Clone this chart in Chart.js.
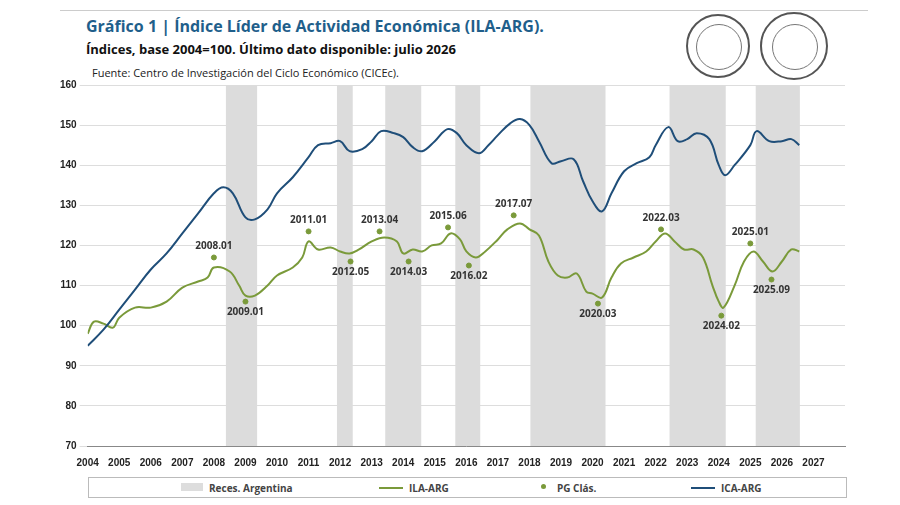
<!DOCTYPE html>
<html><head><meta charset="utf-8">
<script src="https://cdn.jsdelivr.net/npm/chart.js@4"></script>
<style>
body{margin:0;width:900px;height:505px;background:#fff;font-family:"Open Sans",Arial,sans-serif;position:relative;overflow:hidden}
#t{position:absolute;left:86px;top:15px;font-size:16px;font-weight:bold;color:#1f5f8b}
#s{position:absolute;left:86px;top:40px;font-size:13px;font-weight:bold;color:#111}
#f{position:absolute;left:92px;top:65px;font-size:11px;color:#222}
#line{position:absolute;left:60px;top:10px;width:808px;border-top:1px solid #ccc}
.logo{position:absolute;top:14px;width:64px;height:64px;border-radius:50%;border:2px solid #555;box-sizing:border-box}
.logo div{position:absolute;left:8px;top:8px;width:44px;height:44px;border-radius:50%;border:1px solid #777}
#wrap{position:absolute;left:0;top:76px;width:900px;height:400px}
#leg{position:absolute;left:88px;top:477px;width:757px;height:19px;border:1px solid #bbb;font-size:10px;font-weight:bold;color:#444}
#leg span{position:absolute;top:3px}
</style></head><body>
<div id="line"></div>
<div id="t">Gráfico 1 | Índice Líder de Actividad Económica (ILA-ARG).</div>
<div id="s">Índices, base 2004=100. Último dato disponible: julio 2026</div>
<div id="f">Fuente: Centro de Investigación del Ciclo Económico (CICEc).</div>
<div class="logo" style="left:686px"><div></div></div>
<div class="logo" style="left:760px;width:68px;height:68px;top:12px"><div style="left:10px;top:10px"></div></div>
<div id="wrap"><canvas id="c"></canvas></div>
<div id="leg">
<span style="left:92px;width:22px;height:8px;background:#ddd;top:5px"></span><span style="left:120px">Reces. Argentina</span>
<span style="left:290px;width:24px;border-top:2px solid #7a9a3a;top:9px"></span><span style="left:320px">ILA-ARG</span>
<span style="left:452px;width:5px;height:5px;border-radius:50%;background:#7a9a3a;top:6px"></span><span style="left:468px">PG Clás.</span>
<span style="left:602px;width:24px;border-top:2px solid #1f4e79;top:9px"></span><span style="left:632px">ICA-ARG</span>
</div>
<script>
const icaX=[2004.0,2004.5,2005.0,2005.5,2006.0,2006.5,2007.0,2007.5,2008.0,2008.3,2008.6,2009.0,2009.3,2009.7,2010.0,2010.5,2011.0,2011.3,2011.7,2012.0,2012.3,2012.7,2013.0,2013.3,2013.7,2014.0,2014.3,2014.6,2015.0,2015.4,2015.7,2016.0,2016.4,2016.7,2017.0,2017.4,2017.7,2018.0,2018.3,2018.7,2019.0,2019.4,2019.7,2020.0,2020.3,2020.6,2021.0,2021.4,2021.8,2022.0,2022.4,2022.7,2023.0,2023.3,2023.7,2024.0,2024.2,2024.5,2025.0,2025.2,2025.6,2026.0,2026.3,2026.55];
const icaY=[95,99,104,109,114,118,123,128,133,134.5,133,127,126.5,129,133,137,142,145,145.5,146,143.5,144,146,148.5,148,147,144.5,143.5,146,149,148,145,143,145,147.5,150.5,151.5,150,146,140.5,141,141.5,136,131,128.5,133,138.5,140.5,142,145,149.5,146,146.5,148,146.5,140,137.5,140,145,148.5,146,146,146.5,145];
const ilaX=[2004.0,2004.2,2004.5,2004.8,2005.0,2005.5,2006.0,2006.5,2007.0,2007.5,2007.8,2008.0,2008.5,2008.8,2009.0,2009.3,2009.7,2010.0,2010.5,2010.8,2011.0,2011.3,2011.7,2012.0,2012.3,2012.6,2013.0,2013.4,2013.8,2014.0,2014.3,2014.6,2014.9,2015.2,2015.5,2015.8,2016.0,2016.3,2016.6,2017.0,2017.3,2017.7,2018.0,2018.3,2018.6,2018.9,2019.2,2019.5,2019.8,2020.0,2020.3,2020.6,2020.9,2021.3,2021.7,2022.0,2022.3,2022.6,2022.9,2023.2,2023.5,2023.8,2024.0,2024.15,2024.5,2024.8,2025.1,2025.4,2025.7,2026.0,2026.3,2026.55];
const ilaY=[98,101,100.5,99.5,102,104.5,104.5,106,109.5,111,112,114.5,113.5,110,107.5,107.5,110,112.5,114.5,117,121,119,119.5,118.5,118,119,121,122,121,118,119,118.5,120,120.5,123,121.5,118.5,117,118.5,121.5,124,125.5,124,122.5,116,112.5,112,113,108.5,108,107,112,115.5,117,118.5,121,123,121,119,119,117,110,106,104.5,110,116,118.5,116,113.5,116,119,118.5];
const pgX=[2008.0,2009.0,2011.0,2012.33,2013.25,2014.17,2015.42,2016.08,2017.5,2020.17,2022.17,2024.08,2025.0,2025.67];
const pgY=[117,106,123.5,116,123.5,116,124.5,115,127.5,105.5,124,102.5,120.5,111.5];
const pgLabels=["2008.01","2009.01","2011.01","2012.05","2013.04","2014.03","2015.06","2016.02","2017.07","2020.03","2022.03","2024.02","2025.01","2025.09"];
const pgAbove=[1,0,1,0,1,0,1,0,1,0,1,0,1,0];
const recStart=[2008.38,2011.9,2013.43,2015.65,2018.03,2022.44,2025.17];
const recEnd=[2009.37,2012.4,2014.57,2016.44,2020.41,2024.22,2026.57];
const xTicks=[2004,2005,2006,2007,2008,2009,2010,2011,2012,2013,2014,2015,2016,2017,2018,2019,2020,2021,2022,2023,2024,2025,2026,2027];
const bands={id:'bands',beforeDatasetsDraw(c){const {ctx,chartArea:a,scales:{x}}=c;ctx.save();ctx.fillStyle='#dcdcdc';
recStart.forEach((s,i)=>{const l=x.getPixelForValue(s),r=x.getPixelForValue(recEnd[i]);ctx.fillRect(l,a.top,r-l,a.bottom-a.top);});ctx.restore();}};
const labs={id:'labs',afterDatasetsDraw(c){const {ctx,scales:{x,y}}=c;ctx.save();ctx.font='bold 10px "Open Sans"';ctx.fillStyle='#333';ctx.textAlign='center';
pgX.forEach((v,i)=>{const px=x.getPixelForValue(v),py=y.getPixelForValue(pgY[i]);ctx.textBaseline=pgAbove[i]?'bottom':'top';ctx.fillText(pgLabels[i],px,pgAbove[i]?py-6:py+6);});ctx.restore();}};
new Chart(document.getElementById('c'),{type:'scatter',
data:{datasets:[
{label:'ICA-ARG',data:icaX.map((v,i)=>({x:v,y:icaY[i]})),showLine:true,borderColor:'#1f4e79',borderWidth:2,pointRadius:0,tension:0.4},
{label:'ILA-ARG',data:ilaX.map((v,i)=>({x:v,y:ilaY[i]})),showLine:true,borderColor:'#7a9a3a',borderWidth:2,pointRadius:0,tension:0.4},
{label:'PG Clás.',data:pgX.map((v,i)=>({x:v,y:pgY[i]})),pointRadius:2.5,backgroundColor:'#7a9a3a',borderColor:'#7a9a3a'}]},
options:{responsive:true,maintainAspectRatio:false,animation:false,
layout:{padding:{left:57,right:55,top:4,bottom:4}},
plugins:{legend:{display:false},tooltip:{enabled:false}},
scales:{x:{type:'linear',min:2004,max:2028,afterBuildTicks:s=>{s.ticks=xTicks.map(v=>({value:v}));},
ticks:{font:{size:10,weight:'bold'},color:'#222',maxRotation:0,callback:v=>v},grid:{display:false},border:{color:'#888'}},
y:{min:70,max:160,ticks:{stepSize:10,font:{size:10,weight:'bold'},color:'#222'},grid:{color:'#ddd'},border:{display:false}}}},
plugins:[bands,labs]});
</script></body></html>
